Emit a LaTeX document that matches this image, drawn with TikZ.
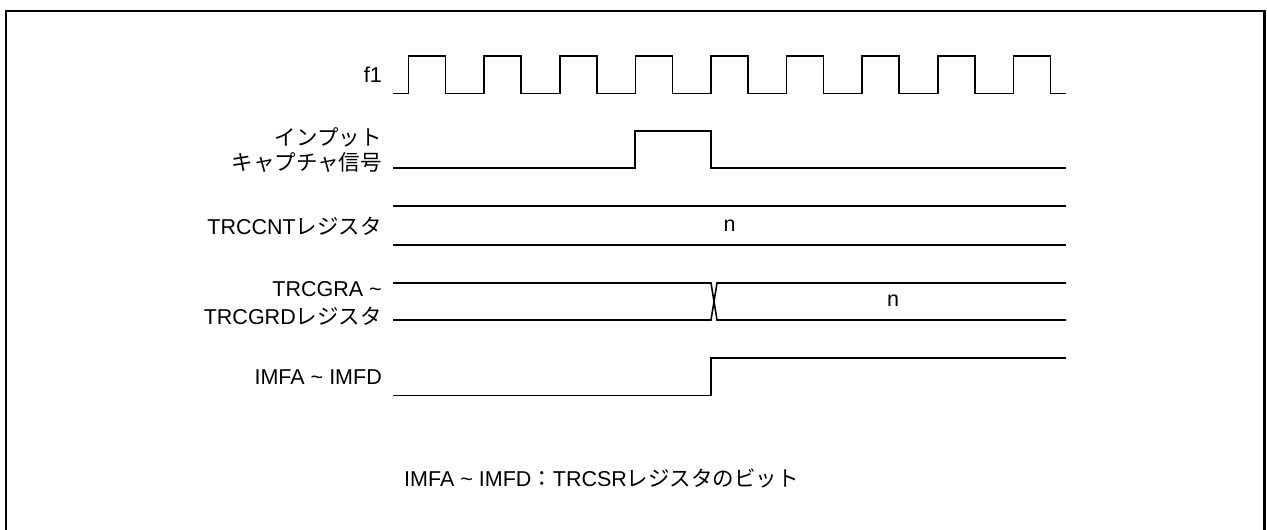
\documentclass[tikz,border=0pt]{standalone}
\usepackage{fontspec}
\setmainfont{Liberation Sans}
\newfontfamily\jp{Noto Sans CJK JP}
\begin{document}
\begin{tikzpicture}[x=1pt,y=-1pt,
  sig/.style={line width=1.6pt,line join=miter},
  frame/.style={line width=2.8pt},
  lbl/.style={anchor=east,inner sep=0pt,font=\fontsize{21.5}{25}\selectfont},
  val/.style={inner sep=0pt,font=\fontsize{21.5}{25}\selectfont},
  note/.style={anchor=west,inner sep=0pt,font=\fontsize{21.5}{25}\selectfont}]
\useasboundingbox (0,0) rectangle (1267,530);
% frame (bottom edge outside the picture)
\draw[frame] (6,535) -- (6,11) -- (1264.5,11) -- (1264.5,535);
% labels
\node[lbl] (lf1) at (382,75) {f1};
\node[lbl] (lic1) at (382,137) {{\jp インプット}};
\node[lbl] (lic2) at (382,162) {{\jp キャプチャ信号}};
\node[lbl] (lcnt) at (382,226) {TRCCNT{\jp レジスタ}};
\node[lbl] (lgr1) at (382,289) {TRCGRA \textasciitilde\ };
\node[lbl] (lgr2) at (382,316) {TRCGRD{\jp レジスタ}};
\node[lbl] (limf) at (382,377) {IMFA \textasciitilde\ IMFD};
% f1 clock
\draw[sig] (393,93.5) \foreach \i in {0,...,8} {
  -- ({408.5+75.6*\i},93.5) -- ({408.5+75.6*\i},56) -- ({445.5+75.6*\i},56) -- ({445.5+75.6*\i},93.5)
} -- (1066,93.5);
% input capture
\draw[sig] (393,168) -- (635,168) -- (635,131) -- (711,131) -- (711,168) -- (1066,168);
% TRCCNT
\draw[sig] (393,206) -- (1066,206);
\draw[sig] (393,245) -- (1066,245);
\node[val] (ncnt) at (729.5,226) {n};
% TRCGRA-TRCGRD
\draw[sig] (393,283) -- (711,283) -- (717,320) -- (1066,320);
\draw[sig] (393,320) -- (711,320) -- (717,283) -- (1066,283);
\node[val] (ngr) at (893,301) {n};
% IMFA-IMFD
\draw[sig] (393,395.5) -- (711,395.5) -- (711,358) -- (1066,358);
% note
\node[note] (fn) at (404,478) {IMFA \textasciitilde\ IMFD{\jp ：}TRCSR{\jp レジスタのビット}};
\end{tikzpicture}
\end{document}
